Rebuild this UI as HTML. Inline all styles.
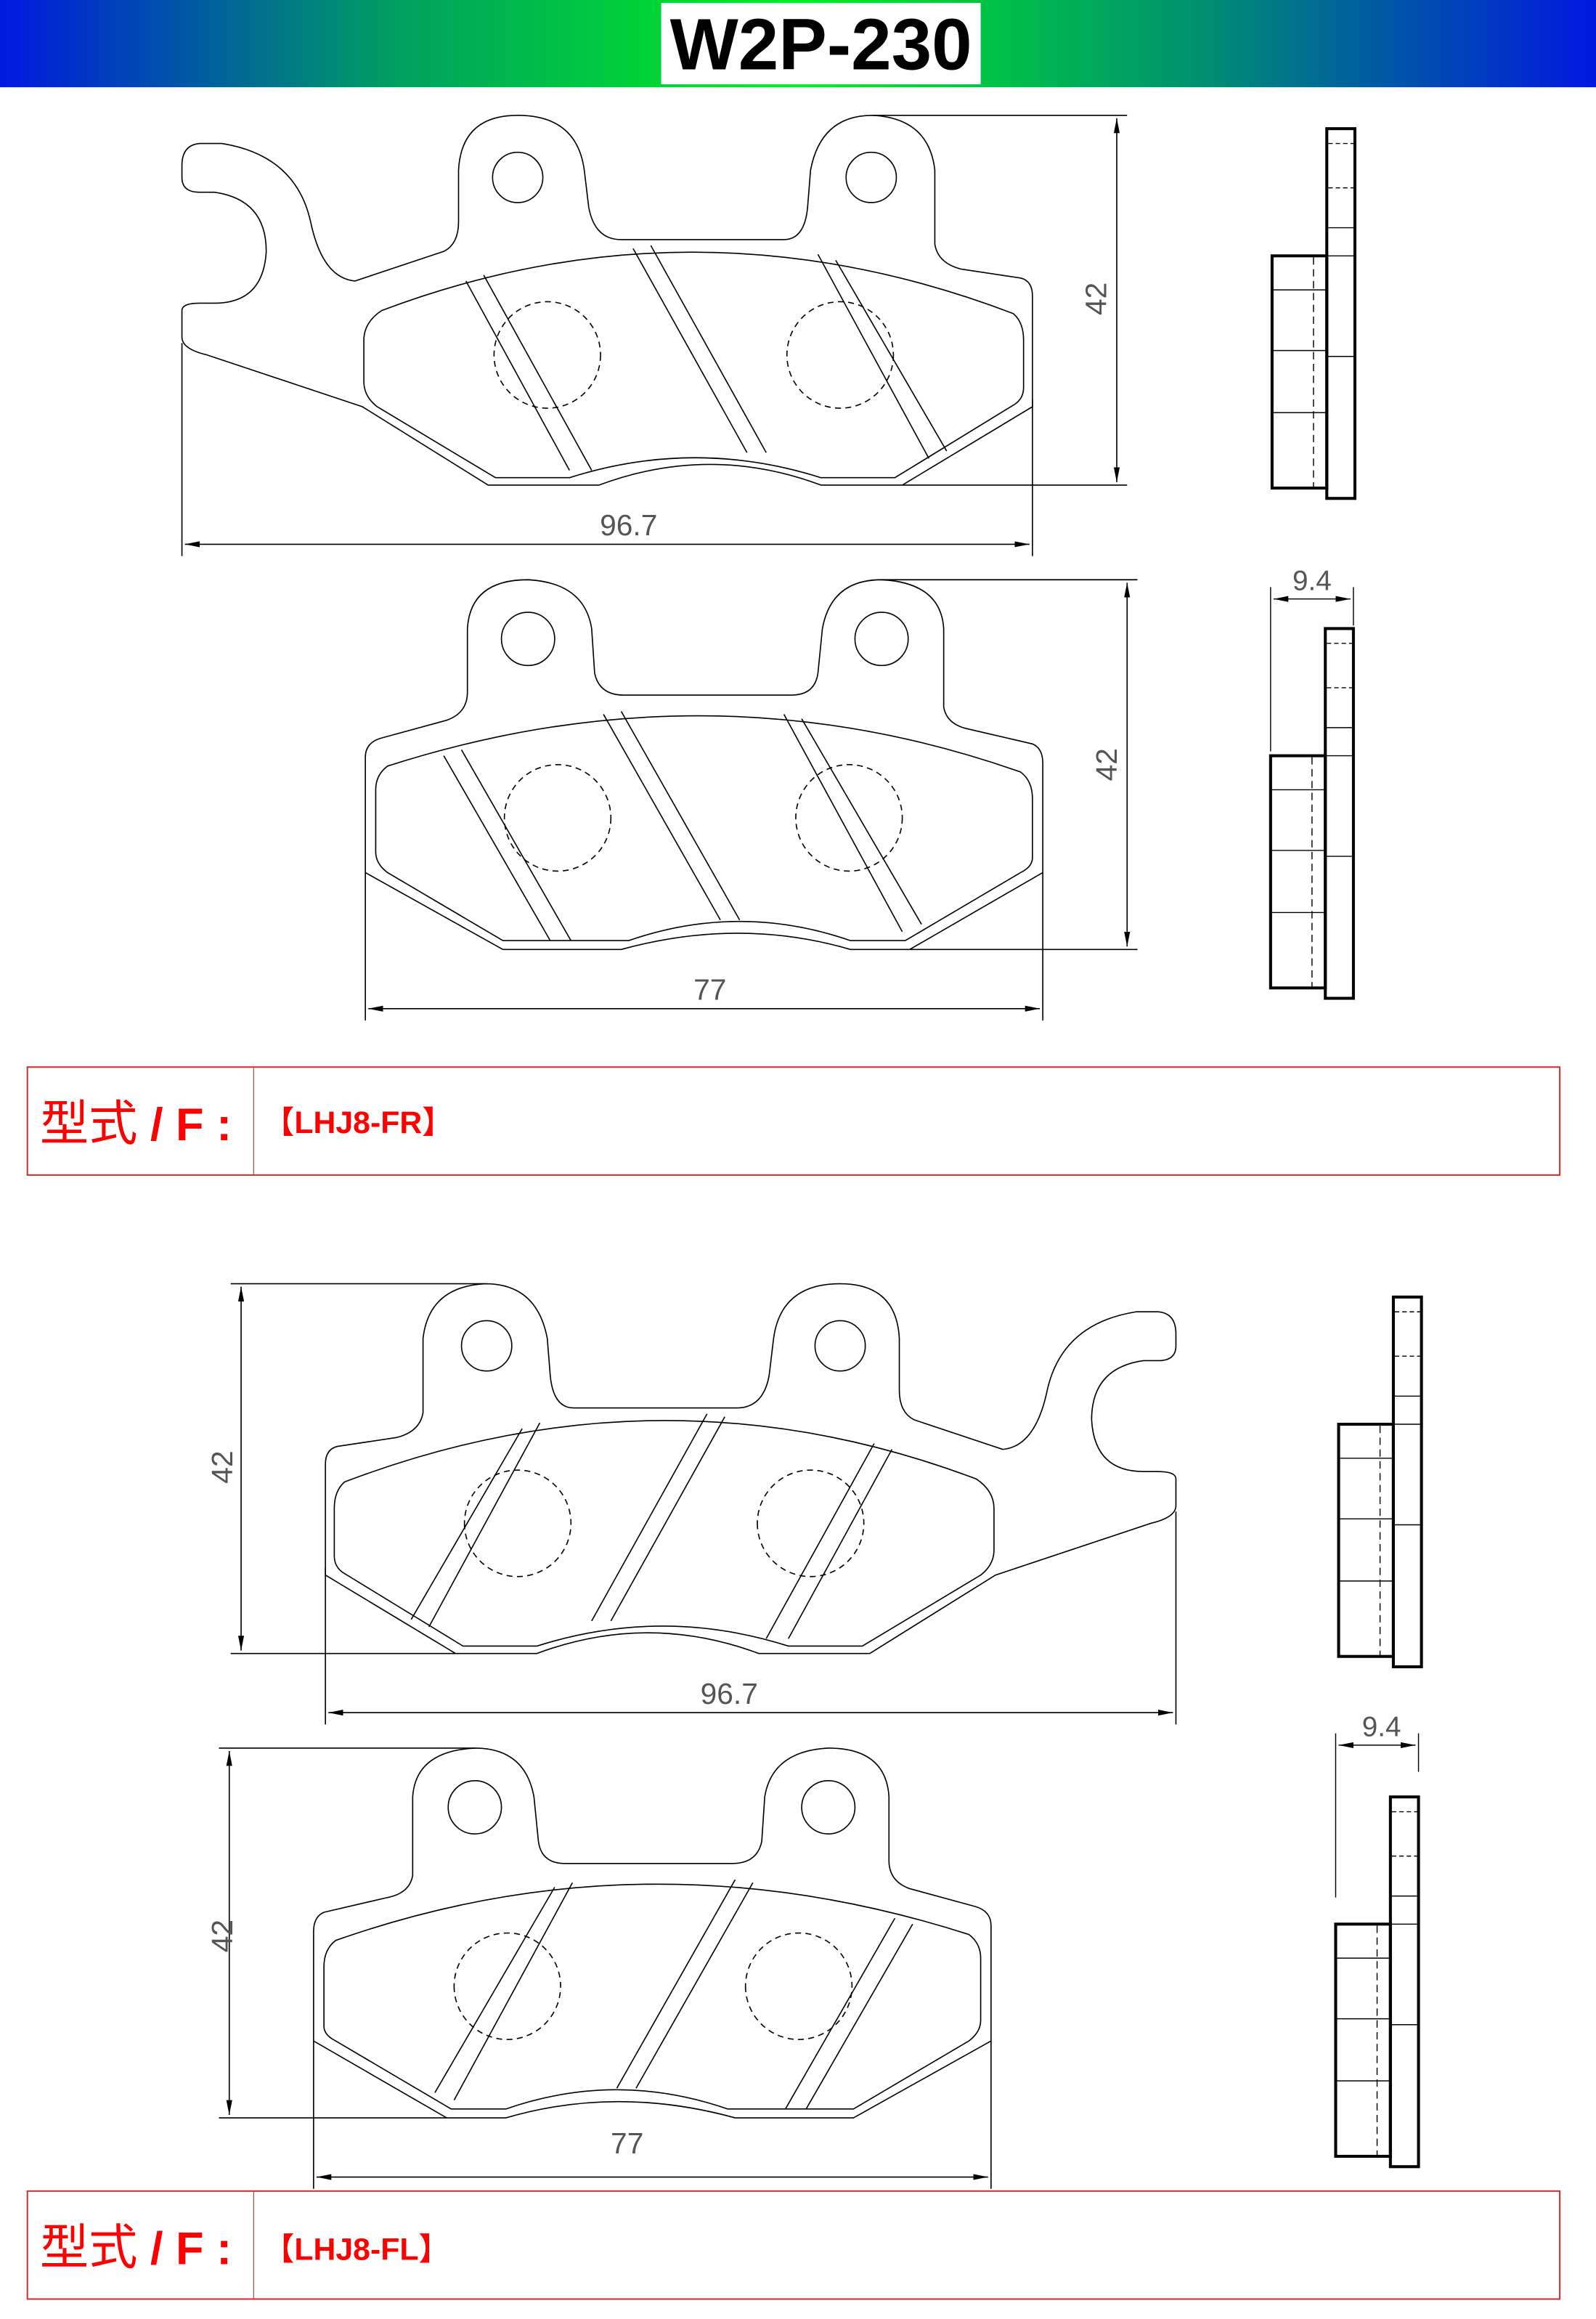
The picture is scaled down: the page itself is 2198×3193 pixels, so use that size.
<!DOCTYPE html>
<html><head><meta charset="utf-8"><style>
html,body{margin:0;padding:0;background:#fff}
svg{display:block}
</style></head><body>
<svg width="2198" height="3193" viewBox="0 0 1079 1568" preserveAspectRatio="none" xmlns="http://www.w3.org/2000/svg" font-family="Liberation Sans, sans-serif">
<defs>
<linearGradient id="hg" x1="0" x2="1" y1="0" y2="0">
<stop offset="0" stop-color="#0018e0"/>
<stop offset="0.25" stop-color="#00a060"/>
<stop offset="0.5" stop-color="#00f020"/>
<stop offset="0.75" stop-color="#009070"/>
<stop offset="1" stop-color="#0018e0"/>
</linearGradient>
<marker id="ar" viewBox="0 0 10 6" refX="10" refY="3" markerWidth="10" markerHeight="6" orient="auto-start-reverse" markerUnits="userSpaceOnUse"><path d="M0,1 L10,3 L0,5 Z" fill="#000"/></marker>

<g id="pad1" fill="none" stroke="#000" stroke-width="0.8">
  <!-- backing plate -->
  <path d="M123,112 Q123,98 135,97 L150,97 Q200,105 210,150 Q218,188 240,190 L300,170 Q310,165 310,150 L310,115 Q312,78 350,78 Q390,78 395,115 L398,140 Q402,162 420,162 L530,162 Q544,162 546,140 L548,115 Q555,78 590,78 Q628,80 632,115 L632,165 Q634,178 650,182 L690,188 Q698,190 698,200 L698,275 L610,328 L555,328 Q480,300 405,328 L330,328 L245,275 L140,240 Q123,236 123,228 L123,210 Q123,205 135,205 L145,205 Q178,205 180,170 Q180,135 145,130 L135,130 Q123,130 123,120 Z"/>
  <circle cx="350" cy="120" r="17"/>
  <circle cx="589" cy="120" r="17"/>
  <!-- friction -->
  <path d="M258,210 Q470,130 685,212 Q692,218 692,230 L692,262 Q692,270 685,274 L605,323 L555,323 Q470,296 385,323 L335,323 L255,275 Q246,268 246,258 L246,230 Q246,218 258,210 Z"/>
  <line x1="315" y1="190" x2="385" y2="318"/>
  <line x1="327" y1="186" x2="400" y2="318"/>
  <line x1="428" y1="168" x2="505" y2="306"/>
  <line x1="440" y1="166" x2="518" y2="306"/>
  <line x1="553" y1="172" x2="628" y2="310"/>
  <line x1="565" y1="176" x2="640" y2="305"/>
  <circle cx="370" cy="240" r="36" stroke-dasharray="4,3"/>
  <circle cx="568" cy="240" r="36" stroke-dasharray="4,3"/>
  <!-- dims -->
  <line x1="590" y1="78" x2="762" y2="78"/>
  <line x1="610" y1="328" x2="762" y2="328"/>
  <line x1="755" y1="80" x2="755" y2="326" marker-start="url(#ar)" marker-end="url(#ar)"/>
  <line x1="123" y1="232" x2="123" y2="376"/>
  <line x1="698" y1="270" x2="698" y2="376"/>
  <line x1="125" y1="368" x2="696" y2="368" marker-start="url(#ar)" marker-end="url(#ar)"/>
</g>

<g id="pad2" fill="none" stroke="#000" stroke-width="0.8">
  <path d="M247,590 L247,512 Q247,502 258,499 L302,487 Q316,482 316,468 L316,425 Q318,392 357,392 Q395,394 400,425 L402,455 Q405,470 422,470 L535,470 Q551,470 553,455 L556,425 Q562,392 596,392 Q636,394 638,425 L638,478 Q640,490 655,493 L698,503 Q705,506 705,516 L705,590 L615,642 L575,642 Q500,620 420,642 L340,642 Z"/>
  <circle cx="357" cy="432" r="18"/>
  <circle cx="596" cy="432" r="18"/>
  <path d="M262,518 Q480,448 690,522 Q698,528 698,540 L698,580 Q698,586 690,590 L612,636 L575,636 Q500,610 425,636 L340,636 L262,590 Q254,584 254,576 L254,534 Q254,524 262,518 Z"/>
  <line x1="300" y1="511" x2="372" y2="636"/>
  <line x1="312" y1="507" x2="386" y2="636"/>
  <line x1="408" y1="483" x2="487" y2="622"/>
  <line x1="420" y1="481" x2="500" y2="622"/>
  <line x1="530" y1="483" x2="610" y2="630"/>
  <line x1="542" y1="486" x2="623" y2="625"/>
  <circle cx="377" cy="553" r="36" stroke-dasharray="4,3"/>
  <circle cx="574" cy="553" r="36" stroke-dasharray="4,3"/>
  <line x1="596" y1="392" x2="769" y2="392"/>
  <line x1="615" y1="642" x2="769" y2="642"/>
  <line x1="762" y1="394" x2="762" y2="640" marker-start="url(#ar)" marker-end="url(#ar)"/>
  <line x1="247" y1="590" x2="247" y2="690"/>
  <line x1="705" y1="590" x2="705" y2="690"/>
  <line x1="249" y1="682" x2="703" y2="682" marker-start="url(#ar)" marker-end="url(#ar)"/>
</g>

<g id="sidebody" fill="none" stroke="#000">
  <rect x="896" y="425" width="19" height="250" stroke-width="2"/>
  <rect x="859" y="511" width="37" height="157" stroke-width="2"/>
  <g stroke-width="0.7">
    <line x1="897" y1="435" x2="914" y2="435" stroke-dasharray="3,2"/>
    <line x1="897" y1="465" x2="914" y2="465" stroke-dasharray="3,2"/>
    <line x1="897" y1="492" x2="914" y2="492"/>
    <line x1="897" y1="511" x2="914" y2="511"/>
    <line x1="897" y1="579" x2="914" y2="579"/>
    <line x1="860" y1="534" x2="896" y2="534"/>
    <line x1="860" y1="575" x2="896" y2="575"/>
    <line x1="860" y1="617" x2="896" y2="617"/>
    <line x1="887" y1="512" x2="887" y2="667" stroke-dasharray="5,3"/>
  </g>
</g>
<g id="sidedim" fill="none" stroke="#000" stroke-width="0.7">
  <line x1="859" y1="397" x2="859" y2="508"/>
  <line x1="915" y1="397" x2="915" y2="423"/>
  <line x1="861" y1="405" x2="913" y2="405" marker-start="url(#ar)" marker-end="url(#ar)"/>
</g>
</defs>

<!-- header -->
<rect x="0" y="0" width="1079" height="59" fill="url(#hg)"/>
<rect x="447" y="2" width="216" height="55" fill="#fff"/>
<text x="555" y="47" font-size="49" font-weight="bold" text-anchor="middle" fill="#000">W2P-230</text>

<!-- top section -->
<use href="#pad1"/>
<use href="#pad2"/>
<use href="#sidebody" transform="translate(1,-338)"/>
<use href="#sidebody"/>
<use href="#sidedim"/>
<g font-size="20" fill="#555" font-weight="normal">
<text x="425" y="362" text-anchor="middle">96.7</text>
<text x="480" y="676" text-anchor="middle">77</text>
<text x="887" y="399" text-anchor="middle" font-size="19">9.4</text>
<text transform="translate(748,202) rotate(-90)" text-anchor="middle">42</text>
<text transform="translate(755,517) rotate(-90)" text-anchor="middle">42</text>
</g>

<!-- table 1 -->
<rect x="18.5" y="721.5" width="1036" height="73" fill="none" stroke="#d03030" stroke-width="1"/>
<line x1="171.5" y1="722" x2="171.5" y2="794" stroke="#a05050" stroke-width="0.6"/>
<text x="27" y="771" font-size="33" fill="#f00" font-family="Liberation Sans, Noto Sans CJK SC, sans-serif">型式<tspan font-weight="bold" font-size="31"> / F :</tspan></text>
<text x="178" y="766" font-size="21" font-weight="bold" fill="#f00" font-family="Liberation Sans, Noto Sans CJK SC, sans-serif">【LHJ8-FR】</text>

<!-- bottom section -->
<use href="#pad1" transform="translate(918,790) scale(-1,1)"/>
<use href="#pad2" transform="translate(917,790) scale(-1,1)"/>
<use href="#sidebody" transform="translate(46,452)"/>
<use href="#sidebody" transform="translate(44,790)"/>
<use href="#sidedim" transform="translate(44,775)"/>
<g font-size="20" fill="#555">
<text x="493" y="1152" text-anchor="middle">96.7</text>
<text x="424" y="1456" text-anchor="middle">77</text>
<text x="934" y="1174" text-anchor="middle" font-size="19">9.4</text>
<text transform="translate(157,992) rotate(-90)" text-anchor="middle">42</text>
<text transform="translate(157,1309) rotate(-90)" text-anchor="middle">42</text>
</g>

<!-- table 2 -->
<rect x="18.5" y="1481.5" width="1036" height="73" fill="none" stroke="#d03030" stroke-width="1"/>
<line x1="171.5" y1="1482" x2="171.5" y2="1554" stroke="#a05050" stroke-width="0.6"/>
<text x="27" y="1531" font-size="33" fill="#f00" font-family="Liberation Sans, Noto Sans CJK SC, sans-serif">型式<tspan font-weight="bold" font-size="31"> / F :</tspan></text>
<text x="178" y="1528" font-size="21" font-weight="bold" fill="#f00" font-family="Liberation Sans, Noto Sans CJK SC, sans-serif">【LHJ8-FL】</text>
</svg>
</body></html>
